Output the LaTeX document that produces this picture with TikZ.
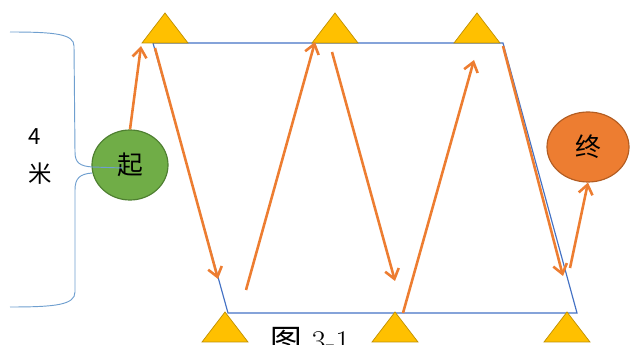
\documentclass[tikz,border=0pt]{standalone}
\usepackage{fontspec}
\newfontfamily\cjk{Noto Sans CJK SC}
\usetikzlibrary{arrows.meta,shapes.geometric}
\definecolor{fblue}{HTML}{4472C4}
\definecolor{fbrace}{HTML}{6F9FCF}
\definecolor{forange}{HTML}{ED7D31}
\definecolor{fdkorange}{HTML}{B35D22}
\definecolor{fgreen}{HTML}{70AD47}
\definecolor{fdkgreen}{HTML}{4E7F31}
\definecolor{fyellow}{HTML}{FFC000}
\definecolor{fdkyellow}{HTML}{C09000}

\begin{document}
\begin{tikzpicture}[x=0.03cm,y=-0.03cm,
  every node/.style={font=\cjk},
  cone/.pic={\filldraw[fill=fyellow,draw=fdkyellow,line width=0.6pt] (-23,0) -- (0,-30) -- (23,0) -- cycle;},
  field/.style={draw=fblue,line width=1pt},
  run/.style={forange,line width=2.2pt,-{Straight Barb[length=8pt,width=12pt]}},
  spot/.style={ellipse,line width=1pt,inner sep=0pt,font=\cjk\fontsize{22}{22}\selectfont}
]
\useasboundingbox (0,0) rectangle (630,345);

% field corners
\coordinate (tl) at (153,43);
\coordinate (tr) at (503,43);
\coordinate (br) at (577,313);
\coordinate (bl) at (228,313);
\draw[field] (tl) -- (tr) -- (br) -- (bl) -- cycle;

% markers
\foreach \cx/\cy in {165/43,335/43,477/43,225/342,395/342,567/342}
  \pic at (\cx,\cy) {cone};

\node[spot,fill=fgreen,draw=fdkgreen,minimum width=2.28cm,minimum height=2.1cm] (start) at (130,165) {起};
\node[spot,fill=forange,draw=fdkorange,minimum width=2.46cm,minimum height=2.1cm] (finish) at (588,147) {终};

% brace and width label
\draw[fbrace,line width=0.8pt] (10,32) .. controls (55,32) and (74,34) .. (74,46) -- (75,152)
  .. controls (75,163) and (80,166) .. (92,167) -- (123,168);
\draw[fbrace,line width=0.8pt] (92,173) .. controls (80,174) and (75,178) .. (75,190) -- (75,292)
  .. controls (75,305) and (55,307) .. (10,307);
\node[font=\cjk\fontsize{19}{19}\selectfont] (four) at (35,137) {4};
\node[font=\cjk\fontsize{20}{20}\selectfont] (mi) at (40,174) {米};

% route
\coordinate (p1) at (141,46);
\coordinate (p2) at (155,48);
\coordinate (p3) at (218,279);
\coordinate (p4) at (246,290);
\coordinate (p5) at (315,42);
\coordinate (p6) at (332,52);
\coordinate (p7) at (395,281);
\coordinate (p8) at (403,313);
\coordinate (p9) at (474,60);
\coordinate (p10) at (503,46);
\coordinate (p11) at (563,276);
\coordinate (p12) at (570,268);
\draw[run] (start.north) -- (p1);
\draw[run] (p2) -- (p3);
\draw[run] (p4) -- (p5);
\draw[run] (p6) -- (p7);
\draw[run] (p8) -- (p9);
\draw[run] (p10) -- (p11);
\draw[run] (p12) -- (finish.south);

\node[anchor=north west,inner sep=0pt,font=\fontsize{27}{27}\selectfont] (cap) at (270,327) {{\cjk 图} 3-1};
\end{tikzpicture}
\end{document}
